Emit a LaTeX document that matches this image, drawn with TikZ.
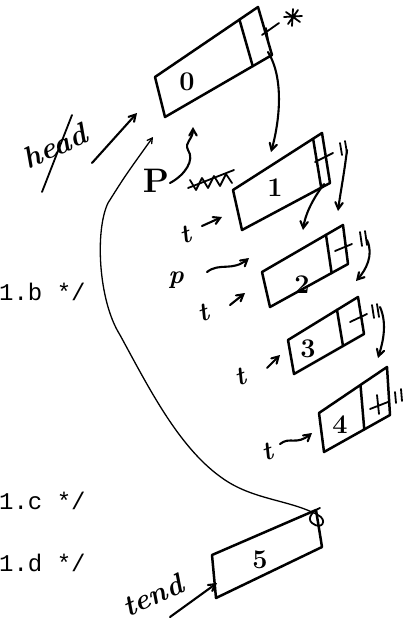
\documentclass[tikz,border=0pt]{standalone}
\usepackage{fontspec}
\newfontfamily\codefont{Liberation Mono}
\usepackage{tikz}
\usetikzlibrary{arrows}
\usetikzlibrary{calc}
\tikzstyle{cell} = [draw, line width=2.5pt]
\tikzstyle{tick} = [draw, line width=1.8pt]
\tikzstyle{ptr} = [->, line width=2.1pt]
\tikzstyle{num} = [inner sep=0pt, font=\fontsize{27}{27}\selectfont\bfseries]
\tikzstyle{lbl} = [inner sep=0pt, font=\fontsize{26}{26}\selectfont\bfseries\itshape]
\tikzstyle{code} = [inner sep=0pt, anchor=base west, font=\codefont\fontsize{24}{24}\selectfont]

\begin{document}
\begin{tikzpicture}[x=1pt,y=-1pt,>=angle 60,line cap=round,line join=round]
  \useasboundingbox (0,0) rectangle (412,624);

  % the cells of the list
  \foreach \n/\ca/\cb/\cc/\cd/\val/\pos in {
      0/{155,77}/{258,7}/{272,55}/{165,117}/0/{187,82},
      1/{233,190}/{322,133}/{330,183}/{242,230}/1/{275,188},
      2/{262,272}/{343,225}/{348,264}/{270,307}/2/{302,285},
      3/{288,340}/{358,297}/{364,334}/{294,374}/3/{308,349},
      4/{319,413}/{387,367}/{390,415}/{324,452}/4/{340,425},
      5/{212,555}/{316,510}/{322,547}/{216,598}/5/{260,560}}
  {
    \coordinate (cell\n-tl) at (\ca);
    \coordinate (cell\n-tr) at (\cb);
    \coordinate (cell\n-br) at (\cc);
    \coordinate (cell\n-bl) at (\cd);
    \draw[cell] (cell\n-tl) -- (cell\n-tr) -- (cell\n-br) -- (cell\n-bl) -- cycle;
    \node[num] (val\n) at (\pos) {\val};
  }
  \foreach \n/\f in {0/0.82,1/0.9,2/0.79,3/0.7,4/0.61}
    \draw[cell] ($(cell\n-tl)!\f!(cell\n-tr)$) -- ($(cell\n-bl)!\f!(cell\n-br)$);

  % next fields
  \draw[tick] (262,35) -- (279,23) (266,28) -- (268,40);
  \draw[tick] (286,12) -- (300,22) (288,24) -- (298,10) (284,17) -- (302,16) (293,9) -- (292,26);
  \draw[tick] (315,162) -- (333,153) (340,143) -- (342,155) (345,141) -- (347,153);
  \draw[tick] (335,251) -- (352,244) (360,232) -- (362,246) (365,231) -- (367,245);
  \draw[tick] (350,322) -- (367,314) (372,305) -- (374,318) (377,304) -- (379,317);
  \draw[tick] (370,409) -- (388,402) (377,395) -- (379,414) (395,392) -- (396,403) (401,389) -- (402,401);
  \draw[tick] (318,515) .. controls (328,520) and (322,531) .. (312,523) .. controls (306,518) and (314,510) .. (320,508);

  % code comments
  \node[code] (c1) at (-1,300) {1.b */};
  \node[code] (c2) at (-1,509) {1.c */};
  \node[code] (c3) at (-1,571) {1.d */};

  % pointers
  \node[lbl, rotate=24, font=\fontsize{30}{30}\selectfont\bfseries\itshape] (head) at (55,146) {head};
  \draw[tick] (72,115) -- (42,192);
  \coordinate (head-from) at (92,163);
  \coordinate (head-to) at (137,113);
  \draw[ptr] (head-from) -- (head-to);

  \node[lbl, rotate=25, font=\fontsize{29}{29}\selectfont\bfseries\itshape] (tend) at (153,595) {tend};
  \coordinate (tend-from) at (170,617);
  \coordinate (tend-to) at (217,583);
  \draw[ptr] (tend-from) -- (tend-to);

  \node[lbl, font=\fontsize{34}{34}\selectfont\bfseries] (p0) at (156,181) {P};
  \coordinate (p0-from) at (170,183);
  \coordinate (p0-to) at (193,127);
  \draw[ptr] (p0-from) .. controls (185,175) and (195,160) .. (188,150)
             .. controls (184,142) and (193,140) .. (p0-to);
  \draw[tick] (188,188) -- (234,170);
  \draw[tick] (190,180) -- (196,190) -- (202,178) -- (208,188) -- (214,176) -- (220,186) -- (226,174) -- (232,183);

  \node[lbl] (p1) at (176,280) {p};
  \coordinate (p1-from) at (207,272);
  \coordinate (p1-to) at (249,258);
  \draw[ptr] (p1-from) .. controls (220,262) and (232,272) .. (p1-to);

  \foreach \n/\pos/\from/\to in {1/{185,235}/{202,226}/{222,217},
                                  2/{203,313}/{230,305}/{245,293},
                                  3/{240,377}/{267,368}/{280,355}}
  {
    \node[lbl, rotate=20] (t\n) at (\pos) {t};
    \coordinate (t\n-from) at (\from);
    \coordinate (t\n-to) at (\to);
    \draw[ptr] (t\n-from) -- (t\n-to);
  }
  \node[lbl, rotate=20] (t4) at (267,452) {t};
  \coordinate (t4-from) at (280,444);
  \coordinate (t4-to) at (312,433);
  \draw[ptr] (t4-from) .. controls (290,436) and (296,446) .. (t4-to);

  % links
  \coordinate (cell0-ptr) at (268,52);
  \coordinate (cell1-in) at (271,152);
  \draw[ptr] (cell0-ptr) .. controls (284,78) and (280,120) .. (cell1-in);
  \draw[ptr] (324,184) .. controls (312,200) and (305,215) .. (303,230);
  \draw[ptr] (347,150) .. controls (344,175) and (340,195) .. (338,211);
  \draw[ptr] (367,240) .. controls (374,255) and (366,270) .. (356,281);
  \draw[ptr] (380,307) .. controls (388,325) and (382,345) .. (378,358);

  \coordinate (cell5-ptr) at (318,515);
  \coordinate (cell0-in) at (153,137);
  \draw[ptr, line width=1.3pt] (cell5-ptr) .. controls (290,500) and (255,500) .. (225,480)
        .. controls (180,450) and (150,390) .. (120,335)
        .. controls (98,300) and (95,230) .. (108,203)
        .. controls (125,176) .. (cell0-in);
\end{tikzpicture}
\end{document}
